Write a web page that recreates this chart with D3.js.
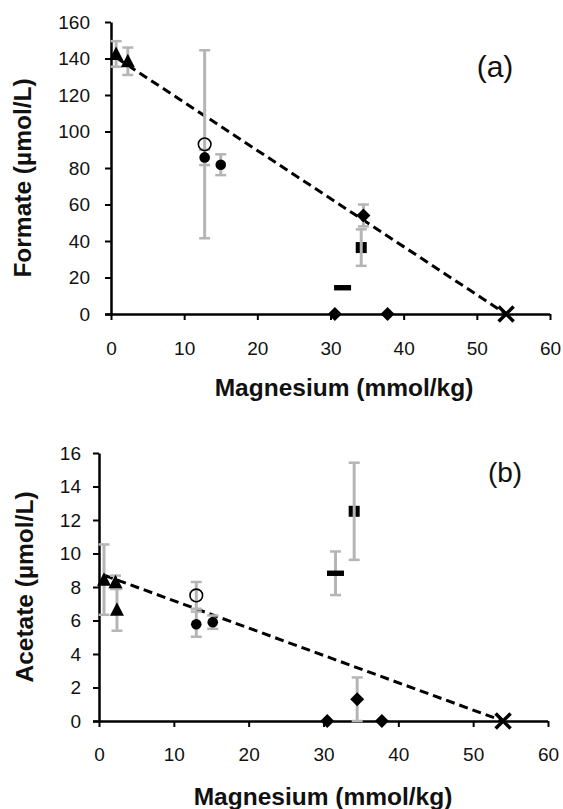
<!DOCTYPE html>
<html><head><meta charset="utf-8">
<script src="https://cdn.jsdelivr.net/npm/d3@7"></script>
<style>body{margin:0;background:#fff}svg{display:block}</style>
</head><body><svg id="c" width="563" height="809"></svg>
<script>
// ---- tick values ----
const magTicks = [0, 10, 20, 30, 40, 50, 60];
const formateTicks = [0, 20, 40, 60, 80, 100, 120, 140, 160];
const acetateTicks = [0, 2, 4, 6, 8, 10, 12, 14, 16];

// ---- panel (a): Formate ----
const fTriX = [0.7, 2.3],  fTriY = [142.5, 138.5], fTriErr = [7, 7.5];
const fOpenX = [12.8],     fOpenY = [93],          fOpenErr = [51.5];
const fDotX = [12.8, 15.0], fDotY = [85.8, 81.8],  fDotErr = [4.2, 5.7];
const fDiaX = [34.5, 30.6, 37.8], fDiaY = [54, 0, 0], fDiaErr = [6, 0, 0];
const fSqX = [34.2],  fSqY = [36.4],  fSqErr = [10];
const fDashX = [31.65], fDashY = [14.4], fDashErr = [0];
const fCrossX = [54.0], fCrossY = [0];
const fFitX = [0.7, 54.0], fFitY = [140.5, 0];

// ---- panel (b): Acetate ----
const aTriX = [0.67, 2.2, 2.4], aTriY = [8.44, 8.28, 6.64], aTriErr = [2.1, 0.4, 1.25];
const aOpenX = [13.0], aOpenY = [7.5], aOpenErr = [0.8];
const aDotX = [13.0, 15.2], aDotY = [5.78, 5.9], aDotErr = [0.75, 0.4];
const aDiaX = [34.5, 30.5, 37.8], aDiaY = [1.3, 0, 0], aDiaErr = [1.3, 0, 0];
const aSqX = [34.1], aSqY = [12.52], aSqErr = [2.9];
const aDashX = [31.6], aDashY = [8.82], aDashErr = [1.3];
const aCrossX = [54.0], aCrossY = [0];
const aFitX = [0.7, 54.0], aFitY = [8.7, 0];

const FONT = "'Liberation Sans', Arial, sans-serif";
const GRAY = "#b5b5b5";
const svg = d3.select("#c");

function zip(xs, ys, es) { return xs.map((x, i) => ({x, y: ys[i], e: es ? es[i] : 0})); }

function series(p) {
  return [
    {shape: "tri",   pts: zip(p.triX, p.triY, p.triErr)},
    {shape: "open",  pts: zip(p.openX, p.openY, p.openErr)},
    {shape: "dot",   pts: zip(p.dotX, p.dotY, p.dotErr)},
    {shape: "dia",   pts: zip(p.diaX, p.diaY, p.diaErr)},
    {shape: "sq",    pts: zip(p.sqX, p.sqY, p.sqErr), barsOnTop: true},
    {shape: "dash",  pts: zip(p.dashX, p.dashY, p.dashErr)},
    {shape: "cross", pts: zip(p.crossX, p.crossY, null)}
  ];
}

function drawMarker(g, shape) {
  if (shape === "tri") g.append("path").attr("d", "M0,-7.5L7,6L-7,6Z").attr("fill", "#000");
  else if (shape === "dot") g.append("circle").attr("r", 5.3).attr("fill", "#000");
  else if (shape === "open") g.append("circle").attr("r", 6.3).attr("fill", "none").attr("stroke", "#000").attr("stroke-width", 1.6);
  else if (shape === "dia") g.append("path").attr("d", "M0,-7L7,0L0,7L-7,0Z").attr("fill", "#000");
  else if (shape === "sq") g.append("rect").attr("x", -5.5).attr("y", -5.5).attr("width", 11).attr("height", 11).attr("fill", "#000");
  else if (shape === "dash") g.append("rect").attr("x", -8.5).attr("y", -2.7).attr("width", 17).attr("height", 5.4).attr("fill", "#000");
  else if (shape === "cross") {
    g.append("path").attr("d", "M-7.5,-7.5L7.5,7.5M-7.5,7.5L7.5,-7.5").attr("stroke", "#000").attr("stroke-width", 3.5);
  }
}

function drawPanel(cfg) {
  const x = d3.scaleLinear().domain([0, 60]).range(cfg.xr);
  const y = d3.scaleLinear().domain(cfg.ydom).range(cfg.yr);
  const g = svg.append("g");

  // y axis
  const ya = g.append("g").attr("transform", `translate(${cfg.xr[0]},0)`)
    .call(d3.axisLeft(y).tickValues(cfg.yTicks).tickSize(6).tickPadding(cfg.yPad).tickSizeOuter(0));
  // x axis
  const xa = g.append("g").attr("transform", `translate(0,${cfg.yr[0]})`)
    .call(d3.axisBottom(x).tickValues(magTicks).tickSize(6).tickPadding(cfg.xPad).tickSizeOuter(0));
  xa.select(".domain").attr("d", `M${cfg.xr[0] - 6},0.5H${cfg.xr[1]}`);
  [ya, xa].forEach(a => {
    a.select(".domain").attr("stroke", "#000").attr("stroke-width", 2.5);
    a.selectAll(".tick line").attr("stroke", "#000").attr("stroke-width", 2);
    a.selectAll(".tick text").attr("fill", "#111").style("font-family", FONT).style("font-size", "19px");
  });

  // fitted dashed line
  g.append("path")
    .attr("d", d3.line().x(d => x(d[0])).y(d => y(d[1]))(cfg.fitX.map((v, i) => [v, cfg.fitY[i]])))
    .attr("fill", "none").attr("stroke", "#000").attr("stroke-width", 3).attr("stroke-dasharray", "9,5");

  function bars(pts) {
    pts.filter(p => p.e > 0).forEach(p => {
      const cx = x(p.x), y1 = y(p.y + p.e), y0 = y(p.y - p.e);
      g.append("line").attr("x1", cx).attr("x2", cx).attr("y1", y1).attr("y2", y0).attr("stroke", GRAY).attr("stroke-width", 3);
      [y1, y0].forEach(yy => g.append("line").attr("x1", cx - 5.5).attr("x2", cx + 5.5).attr("y1", yy).attr("y2", yy).attr("stroke", GRAY).attr("stroke-width", 2.5));
    });
  }
  const ser = series(cfg.data);
  ser.filter(s => !s.barsOnTop).forEach(s => bars(s.pts));
  ser.forEach(s => s.pts.forEach(p => {
    const m = g.append("g").attr("transform", `translate(${x(p.x)},${y(p.y)})`);
    drawMarker(m, s.shape);
  }));
  ser.filter(s => s.barsOnTop).forEach(s => bars(s.pts));

  // titles
  g.append("text").attr("x", cfg.xTitle[0]).attr("y", cfg.xTitle[1]).attr("text-anchor", "middle")
    .style("font-family", FONT).style("font-size", "24.5px").style("font-weight", "bold").attr("fill", "#111")
    .text("Magnesium (mmol/kg)");
  g.append("text").attr("transform", `translate(${cfg.yTitle[0]},${cfg.yTitle[1]}) rotate(-90)`).attr("text-anchor", "middle")
    .style("font-family", FONT).style("font-size", "24.5px").style("font-weight", "bold").attr("fill", "#111")
    .text(cfg.yLabel);
  g.append("text").attr("x", cfg.tag[0]).attr("y", cfg.tag[1]).attr("text-anchor", "middle")
    .style("font-family", FONT).style("font-size", cfg.tagSize + "px").attr("fill", "#111").text(cfg.tagText);
}

drawPanel({
  xr: [111, 550], yr: [314, 22], ydom: [0, 160], yTicks: formateTicks, yPad: 15, xPad: 22,
  fitX: fFitX, fitY: fFitY,
  data: {triX: fTriX, triY: fTriY, triErr: fTriErr, openX: fOpenX, openY: fOpenY, openErr: fOpenErr,
         dotX: fDotX, dotY: fDotY, dotErr: fDotErr, diaX: fDiaX, diaY: fDiaY, diaErr: fDiaErr,
         sqX: fSqX, sqY: fSqY, sqErr: fSqErr, dashX: fDashX, dashY: fDashY, dashErr: fDashErr,
         crossX: fCrossX, crossY: fCrossY},
  xTitle: [344, 396], yTitle: [31, 178], yLabel: "Formate (µmol/L)",
  tag: [495, 77], tagText: "(a)", tagSize: 30
});

drawPanel({
  xr: [99, 548], yr: [721, 453], ydom: [0, 16], yTicks: acetateTicks, yPad: 12, xPad: 21,
  fitX: aFitX, fitY: aFitY,
  data: {triX: aTriX, triY: aTriY, triErr: aTriErr, openX: aOpenX, openY: aOpenY, openErr: aOpenErr,
         dotX: aDotX, dotY: aDotY, dotErr: aDotErr, diaX: aDiaX, diaY: aDiaY, diaErr: aDiaErr,
         sqX: aSqX, sqY: aSqY, sqErr: aSqErr, dashX: aDashX, dashY: aDashY, dashErr: aDashErr,
         crossX: aCrossX, crossY: aCrossY},
  xTitle: [323, 805], yTitle: [33, 587], yLabel: "Acetate (µmol/L)",
  tag: [505, 482], tagText: "(b)", tagSize: 28
});
</script></body></html>
